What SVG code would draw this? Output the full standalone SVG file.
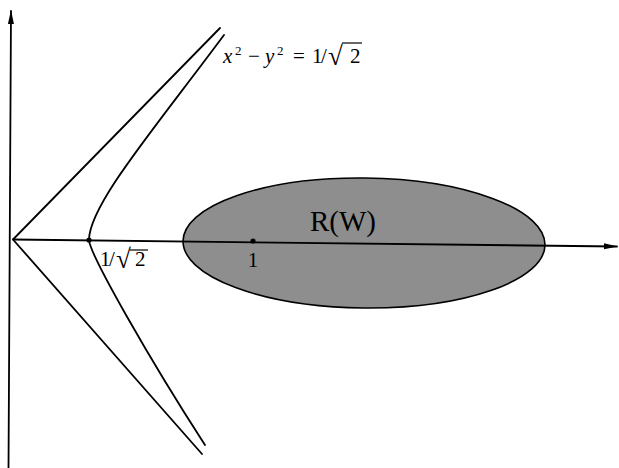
<svg xmlns="http://www.w3.org/2000/svg" width="619" height="468" viewBox="0 0 619 468">
<style>
.ln{fill:none;stroke:#000;stroke-width:1.8;stroke-linecap:round;stroke-linejoin:round}
.t{font-family:"Liberation Serif","Times New Roman",serif;fill:#000}
.it{font-style:italic}
.rad{font-size:27px}
</style>
<defs>
<marker id="arr" viewBox="0 0 14 8" refX="13" refY="4" markerWidth="14" markerHeight="8" markerUnits="userSpaceOnUse" orient="auto">
<path d="M0,1 L14,4 L0,7 Z" fill="#000"/>
</marker>
</defs>
<rect width="619" height="468" fill="#fff"/>
<g id="region">
<ellipse cx="364" cy="243" rx="181" ry="65" transform="rotate(0.6 364 243)" fill="#8e8e8e" stroke="#000" stroke-width="1.6"/>
<text class="t" x="343" y="231" font-size="29" text-anchor="middle">R(W)</text>
</g>
<g id="axes">
<line class="ln" x1="8.5" y1="468" x2="11" y2="11" marker-end="url(#arr)" stroke-width="1.6"/>
<line class="ln" x1="13" y1="239.5" x2="617" y2="246.5" marker-end="url(#arr)" stroke-width="1.5"/>
</g>
<g id="asymptotes">
<path class="ln" d="M220,28 L13,239.5 L202,454"/>
</g>
<g id="hyperbola">
<path class="ln" d="M224,35 C155,128 89,205 89,240 C90,255 150,360 205,445"/>
<circle cx="89" cy="240" r="2.6" fill="#000"/>
</g>
<g id="point-one">
<circle cx="253" cy="241" r="2.6" fill="#000"/>
<text class="t" x="253" y="267" font-size="21" text-anchor="middle">1</text>
</g>
<g id="label-vertex">
<text class="t" font-size="21" y="266"><tspan x="100">1</tspan><tspan x="109">/</tspan><tspan class="rad" x="116" y="268">√</tspan><tspan x="135" y="266">2</tspan></text>
<line x1="130" y1="250" x2="148" y2="250" stroke="#000" stroke-width="1.2"/>
</g>
<g id="label-curve">
<text class="t" font-size="21" y="63"><tspan class="it" x="223">x</tspan><tspan x="235" y="55" font-size="13">2</tspan><tspan x="248" y="63">−</tspan><tspan class="it" x="265">y</tspan><tspan x="277" y="55" font-size="13">2</tspan><tspan x="293" y="63">=</tspan><tspan x="312">1</tspan><tspan x="321">/</tspan><tspan class="rad" x="328" y="65">√</tspan><tspan x="350" y="63">2</tspan></text>
<line x1="342" y1="43" x2="362" y2="43" stroke="#000" stroke-width="1.2"/>
</g>
</svg>
